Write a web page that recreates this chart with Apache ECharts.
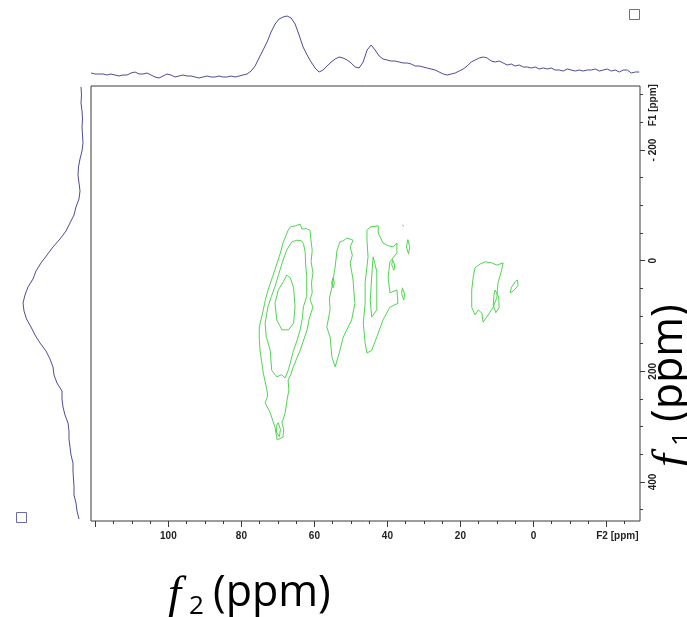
<!DOCTYPE html>
<html>
<head>
<meta charset="utf-8">
<script src="https://cdn.jsdelivr.net/npm/echarts@6/dist/echarts.min.js"></script>
<style>
  html, body { margin: 0; padding: 0; background: #fff; }
  #chart { width: 687px; height: 617px; }
</style>
</head>
<body>
<div id="chart"></div>
<script>
// Spectral windows (ppm): F2 runs high -> low left to right, F1 runs low -> high top to bottom
const f2Window = [-29.2, 121.2];
const f1Window = [-315.7, 470.5];

// Tick positions (ppm)
const f2MinorTicks = [120, 115, 110, 105, 100, 95, 90, 85, 80, 75, 70, 65, 60, 55, 50, 45, 40, 35, 30, 25, 20, 15, 10, 5, 0, -5, -10, -15, -20, -25];
const f2MajorTicks = [120, 100, 80, 60, 40, 20, 0, -20];
const f2TickLabels = [100, 80, 60, 40, 20, 0];
const f2UnitAt = -23;
const f1MinorTicks = [-300, -250, -200, -150, -100, -50, 0, 50, 100, 150, 200, 250, 300, 350, 400, 450];
const f1MajorTicks = [-200, 0, 200, 400];
const f1TickLabels = [-200, 0, 200, 400];
const f1UnitAt = -281;

// External projection along F2 (top trace), evenly sampled from projF2Start to projF2End
const projF2Start = 121.2, projF2End = -29.0;
const projF2 = [7, 6, 6, 6, 5, 6, 5, 4, 5, 5, 7, 8, 6, 6, 7, 5, 3, 2, 4, 6,
  5, 3, 4, 5, 4, 4, 3, 2, 3, 4, 3, 3, 4, 3, 3, 4, 3, 4, 5, 6,
  9, 14, 22, 30, 38, 48, 56, 61, 63, 64, 62, 56, 45, 33, 25, 18, 12, 8, 10, 14,
  18, 21, 23, 22, 20, 17, 13, 12, 18, 30, 35, 30, 24, 21, 20, 19, 19, 18, 17, 17,
  16, 14, 14, 13, 12, 11, 10, 8, 6, 5, 6, 7, 9, 11, 14, 18, 20, 22, 23, 22,
  19, 18, 19, 17, 15, 16, 14, 15, 13, 13, 12, 13, 11, 12, 11, 12, 10, 10, 9, 11,
  10, 9, 10, 9, 10, 10, 11, 9, 10, 11, 9, 10, 8, 10, 10, 7, 8, 8];

// External projection along F1 (left trace), evenly sampled from projF1Start to projF1End
const projF1Start = -314, projF1End = 467;
const projF1 = [9, 8.5, 9, 8, 7.5, 8, 7.5, 7, 8, 10, 11.5, 12, 11, 10, 11, 14, 16, 20, 24, 30,
  37, 43, 49, 54, 57, 62, 65, 67, 66, 63.5, 59, 55, 50, 44, 40, 37, 36, 33, 28, 28,
  27, 25, 22, 21, 21, 20, 19, 17, 17, 16.5, 16, 16, 14, 13, 11];

// Contour paths [F2 ppm, F1 ppm]
const peak70Outer = [[66.6, -61], [65.2, -63], [63.9, -66], [63.4, -57], [62.2, -58], [61.2, -55], [61.0, -40], [60.6, -19],
  [60.9, 2], [60.4, 22], [60.8, 40], [60.6, 58], [61.2, 70], [60.4, 84], [61.4, 104], [62.0, 125], [63.9, 162],
  [65.8, 192], [66.4, 205], [67.2, 216], [67.0, 234], [67.5, 252], [68.0, 275], [68.9, 293], [68.4, 305], [68.6, 319],
  [70.2, 324], [70.8, 301], [72.1, 275], [73.5, 257], [72.8, 245], [73.0, 234], [74.0, 203], [74.5, 180], [74.9, 162],
  [75.1, 140], [75.1, 120], [74.0, 89], [73.4, 70], [72.7, 53], [71.5, 30], [70.2, 4], [69.4, -12], [68.6, -32],
  [67.2, -55], [66.6, -61]];
const peak70Middle = [[66.2, -34], [64.8, -37], [63.6, -36], [63.0, -31], [62.5, -14], [62.4, 8], [62.1, 29], [62.1, 65],
  [63.0, 83], [63.3, 104], [63.9, 125], [64.8, 145], [65.7, 162], [67.1, 197], [68.0, 212], [69.0, 206], [70.3, 210],
  [71.7, 198], [72.1, 162], [73.2, 137], [73.5, 113], [72.7, 83], [71.8, 65], [70.8, 47], [69.8, 25], [68.9, 5],
  [67.6, -19], [66.2, -34]];
const peak70Inner = [[67.6, 26], [66.6, 31], [65.7, 49], [65.3, 83], [65.7, 113], [67.1, 125], [68.9, 125], [70.3, 107],
  [70.8, 77], [69.9, 53], [68.5, 38], [67.6, 26]];
const peak70Tail = [[69.9, 293], [69.3, 305], [69.6, 318], [70.4, 310], [70.3, 297], [69.9, 293]];

const peak52Outer = [[53.0, -34], [52.1, -36], [51.1, -41], [49.4, -37], [50.2, -25], [49.6, -10], [50.2, 4], [49.4, 35],
  [49.2, 55], [48.9, 77], [49.8, 107], [51.1, 125], [52.1, 138], [53.0, 162], [54.3, 192], [55.2, 174], [55.7, 138],
  [56.6, 120], [55.7, 89], [55.9, 68], [55.2, 48], [54.3, 11], [53.8, -19], [53.0, -34]];
const peak52Spot = [[54.9, 31], [54.5, 40], [54.9, 49], [55.3, 40], [54.9, 31]];

const peak42Outer = [[45.6, -55], [44.7, -61], [42.5, -63], [42.5, -50], [41.2, -32], [39.8, -27], [38.4, -25], [37.4, -32],
  [37.4, -14], [39.3, 2], [39.8, 30], [39.3, 58], [37.4, 53], [37.1, 77], [39.3, 84], [41.2, 107], [42.9, 138],
  [44.3, 162], [45.6, 167], [46.1, 149], [46.6, 113], [46.1, 77], [46.1, 40], [45.3, -7], [45.6, -37], [45.6, -55]];
const peak42Inner = [[43.9, -7], [42.9, 20], [42.9, 60], [42.9, 89], [44.3, 102], [44.7, 71], [44.3, 29], [43.9, -7]];
const peak42SpotA = [[34.4, -38], [33.9, -25], [34.2, -12], [34.8, -25], [34.4, -38]];
const peak42SpotB = [[38.6, -2], [38.0, 8], [38.2, 17], [38.8, 8], [38.6, -2]];
const peak42SpotC = [[35.9, 49], [35.3, 60], [35.5, 71], [36.1, 60], [35.9, 49]];
const peak42SpotD = [[35.8, -65], [35.6, -62], [35.8, -65]];

const peak12Outer = [[16.0, 13], [14.6, 6], [13.2, 2], [11.4, 4], [10.0, 8], [8.3, 4], [8.7, 17], [9.7, 40], [10.0, 66],
  [11.0, 84], [12.8, 102], [13.8, 111], [14.1, 95], [15.1, 89], [16.0, 98], [16.9, 84], [16.9, 53], [16.5, 30],
  [16.0, 13]];
const peak12InnerA = [[10.5, 53], [9.5, 66], [9.4, 85], [10.3, 94], [11.0, 80], [10.8, 62], [10.5, 53]];
const peak12InnerB = [[4.4, 35], [4.2, 45], [5.5, 55], [6.4, 58], [6.0, 48], [5.0, 38], [4.4, 35]];

const contourPaths = [peak70Outer, peak70Middle, peak70Inner, peak70Tail, peak52Outer, peak52Spot,
  peak42Outer, peak42Inner, peak42SpotA, peak42SpotB, peak42SpotC, peak42SpotD,
  peak12Outer, peak12InnerA, peak12InnerB];

const CONTOUR_GREEN = '#52d452';
const TRACE_BLUE = '#4c4c94';
const FRAME = '#3a3a3a';
const tickFont = { fontFamily: 'Liberation Sans', fontWeight: 'bold', fontSize: 10, color: '#222' };

function evenGrid(start, end, values) {
  const n = values.length;
  return values.map((v, i) => start + (end - start) * i / (n - 1));
}

const topTrace = evenGrid(projF2Start, projF2End, projF2).map((ppm, i) => [ppm, projF2[i]]);
const leftTrace = evenGrid(projF1Start, projF1End, projF1).map((ppm, i) => [projF1[i], ppm]);

const chart = echarts.init(document.getElementById('chart'), null, { renderer: 'canvas' });

const f2Axis = (extra) => Object.assign({
  type: 'value', gridIndex: 0, min: f2Window[0], max: f2Window[1], inverse: true, position: 'bottom',
  axisLine: { show: false, onZero: false }, splitLine: { show: false }, axisLabel: { show: false }
}, extra);
const f1Axis = (extra) => Object.assign({
  type: 'value', gridIndex: 0, min: f1Window[0], max: f1Window[1], inverse: true, position: 'right',
  axisLine: { show: false, onZero: false }, splitLine: { show: false }, axisLabel: { show: false }
}, extra);

const series = contourPaths.map(path => ({
  type: 'line', xAxisIndex: 0, yAxisIndex: 0, data: path, showSymbol: false, symbol: 'none',
  lineStyle: { color: CONTOUR_GREEN, width: 1 }, silent: true, animation: false, z: 3
}));
series.push({
  type: 'line', xAxisIndex: 2, yAxisIndex: 2, data: topTrace, showSymbol: false, symbol: 'none', clip: false,
  lineStyle: { color: TRACE_BLUE, width: 1 }, silent: true, animation: false
});
series.push({
  type: 'line', xAxisIndex: 3, yAxisIndex: 3, data: leftTrace, showSymbol: false, symbol: 'none', clip: false,
  lineStyle: { color: TRACE_BLUE, width: 1 }, silent: true, animation: false
});

// Axis titles: italic f with subscript index, then the unit
function axisTitle(x, y, rotation, index) {
  return {
    type: 'group', x: x, y: y, rotation: rotation, silent: true,
    children: [
      { type: 'text', x: 0, y: 0, style: { text: 'f', font: 'italic 47px "Liberation Serif"', fill: '#000', align: 'left', verticalAlign: 'middle' } },
      { type: 'text', x: 21, y: 11, style: { text: index, font: '26px "Open Sans"', fill: '#000', align: 'left', verticalAlign: 'middle' } },
      { type: 'text', x: 45, y: -2, style: { text: '(ppm)', font: '43px "Open Sans"', fill: '#000', align: 'left', verticalAlign: 'middle' } }
    ]
  };
}

chart.setOption({
  animation: false,
  backgroundColor: '#fff',
  grid: [
    { left: 91, top: 86, width: 549, height: 435, show: true, borderColor: FRAME, borderWidth: 1, backgroundColor: 'transparent' },
    { left: 91, top: 0, width: 549, height: 80 },
    { left: 0, top: 86, width: 90, height: 435 }
  ],
  xAxis: [
    f2Axis({ axisTick: { show: true, length: 3, customValues: f2MinorTicks, lineStyle: { color: FRAME } } }),
    f2Axis({
      axisTick: { show: true, length: 6, customValues: f2MajorTicks, lineStyle: { color: FRAME } },
      axisLabel: Object.assign({ show: true, margin: 10, customValues: f2TickLabels.concat([f2UnitAt]),
        formatter: v => (v === f2UnitAt ? 'F2 [ppm]' : String(v)) }, tickFont)
    }),
    { type: 'value', gridIndex: 1, min: f2Window[0], max: f2Window[1], inverse: true, show: false },
    { type: 'value', gridIndex: 2, min: 0, max: 90, inverse: true, show: false }
  ],
  yAxis: [
    f1Axis({ axisTick: { show: true, length: 3, customValues: f1MinorTicks, lineStyle: { color: FRAME } } }),
    f1Axis({
      axisTick: { show: true, length: 5, customValues: f1MajorTicks, lineStyle: { color: FRAME } },
      axisLabel: Object.assign({ show: true, margin: 8, rotate: 90, customValues: f1TickLabels.concat([f1UnitAt]),
        formatter: v => (v === f1UnitAt ? 'F1 [ppm]' : (v < 0 ? '- ' + (-v) : String(v))) }, tickFont)
    }),
    { type: 'value', gridIndex: 1, min: 0, max: 80, show: false },
    { type: 'value', gridIndex: 2, min: f1Window[0], max: f1Window[1], inverse: true, show: false }
  ],
  series: series,
  graphic: [
    { type: 'rect', silent: true, shape: { x: 629.5, y: 9.5, width: 10, height: 10 }, style: { fill: 'none', stroke: '#6a6aa8', lineWidth: 1 } },
    { type: 'rect', silent: true, shape: { x: 16.5, y: 512.5, width: 10, height: 10 }, style: { fill: 'none', stroke: '#6a6aa8', lineWidth: 1 } },
    axisTitle(168, 596, 0, '2'),
    axisTitle(672, 467, Math.PI / 2, '1')
  ]
});
</script>
</body>
</html>
